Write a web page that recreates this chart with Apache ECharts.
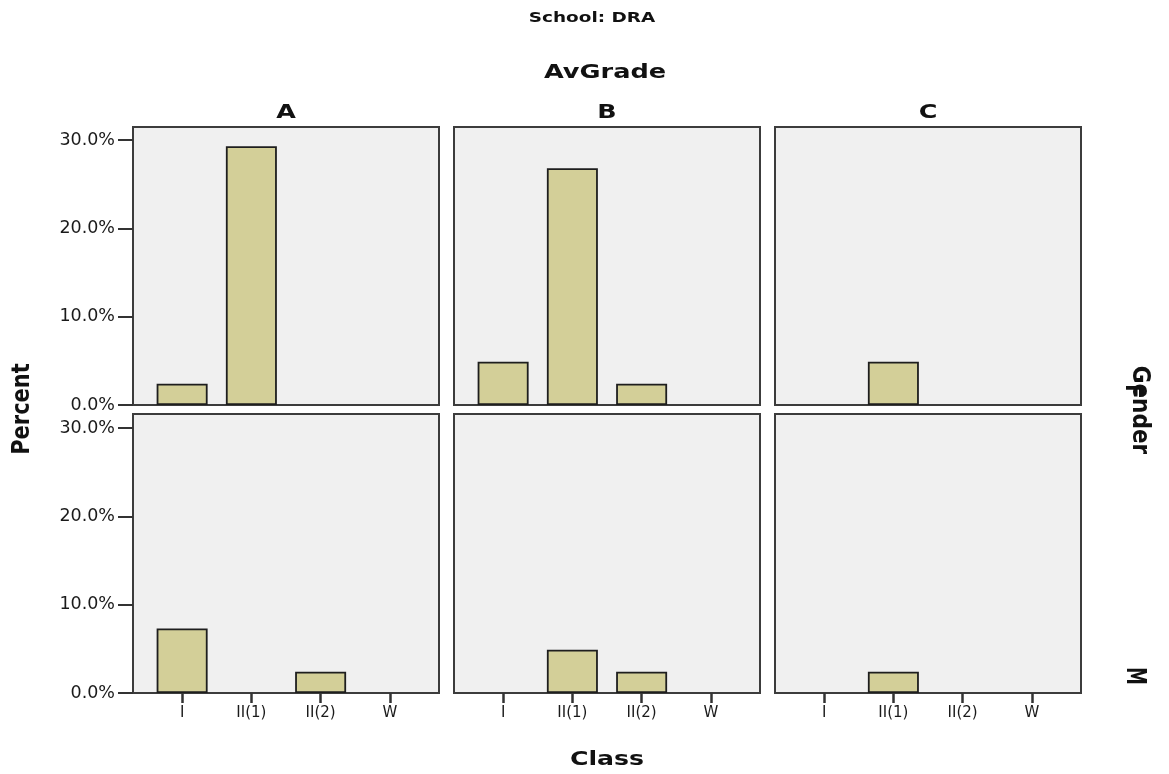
<!DOCTYPE html>
<html>
<head>
<meta charset="utf-8">
<style>
  html, body { margin: 0; padding: 0; background: #fff; }
  #chart { width: 1169px; height: 774px; }
</style>
<script src="https://cdn.jsdelivr.net/npm/echarts@6/dist/echarts.min.js"></script>
</head>
<body>
<div id="chart"></div>
<script>
// Class categories on the x axis
const classes = ['I', 'II(1)', 'II(2)', 'W'];
// Panel columns (AvGrade) and rows (Gender)
const grades = ['A', 'B', 'C'];
const genders = ['F', 'M'];
// Percent of students per class, one array per Gender × AvGrade panel
const pctF_A = [2.4, 29.3, 0, 0];
const pctF_B = [4.9, 26.8, 2.4, 0];
const pctF_C = [0, 4.9, 0, 0];
const pctM_A = [7.3, 0, 2.4, 0];
const pctM_B = [0, 4.9, 2.4, 0];
const pctM_C = [0, 2.4, 0, 0];
// Y tick values
const yTicks = [0, 10, 20, 30];

const panelData = [
  [pctF_A, pctF_B, pctF_C],
  [pctM_A, pctM_B, pctM_C]
];

const FONT = '"DejaVu Sans", Verdana, sans-serif';
const panelLeft = [133, 454, 775];
const panelW = 306;
const pad = 14.5;
const rows = [
  { panelTop: 127, axisTop: 140, axisBottom: 405 },
  { panelTop: 414, axisTop: 428, axisBottom: 693 }
];

const grid = [], xAxis = [], yAxis = [], series = [], graphic = [];

rows.forEach((r, ri) => {
  grades.forEach((g, ci) => {
    const idx = ri * 3 + ci;
    // panel background and frame
    graphic.push({
      type: 'rect', z: -10, silent: true,
      shape: { x: panelLeft[ci], y: r.panelTop, width: panelW, height: r.axisBottom - r.panelTop },
      style: { fill: '#f0f0f0', stroke: '#3c3c3c', lineWidth: 2 }
    });
    grid.push({
      left: panelLeft[ci] + pad,
      width: panelW - 2 * pad,
      top: r.axisTop,
      height: r.axisBottom - r.axisTop
    });
    const bottomRow = ri === rows.length - 1;
    xAxis.push({
      type: 'category', gridIndex: idx, data: classes,
      axisLine: { show: false },
      axisTick: { show: bottomRow, alignWithLabel: true, length: 10, lineStyle: { color: '#333', width: 2.5 } },
      axisLabel: { show: bottomRow, color: '#1a1a1a', fontFamily: FONT, fontSize: 15, margin: 13 },
      splitLine: { show: false }
    });
    const firstCol = ci === 0;
    yAxis.push({
      type: 'value', gridIndex: idx, min: yTicks[0], max: yTicks[yTicks.length - 1], interval: 10,
      offset: pad,
      axisLine: { show: false },
      axisTick: { show: firstCol, length: 15, lineStyle: { color: '#333', width: 2 } },
      axisLabel: { show: firstCol, color: '#1a1a1a', fontFamily: FONT, fontSize: 17.5, margin: 18,
        formatter: v => v.toFixed(1) + '%' },
      splitLine: { show: false }
    });
    series.push({
      type: 'bar', xAxisIndex: idx, yAxisIndex: idx,
      data: panelData[ri][ci].map(v => (v > 0 ? v : '-')),
      barWidth: 51,
      itemStyle: { color: '#d3cf98', borderColor: '#1e1e1e', borderWidth: 1.8 },
      silent: true, animation: false
    });
  });
});

// bold label; sx/sy widen the glyphs
const boldText = (text, x, y, size, rotation, sx, sy) => ({
  type: 'text', x: x, y: y, rotation: rotation || 0, scaleX: sx || 1, scaleY: sy || 1, silent: true,
  style: { text: text, font: 'bold ' + size + 'px ' + FONT, fill: '#111', align: 'center', verticalAlign: 'middle' }
});

graphic.push(boldText('School: DRA', 592, 18, 14.5, 0, 1.27, 1));
graphic.push(boldText('AvGrade', 605, 73, 20, 0, 1.28, 1));
grades.forEach((g, ci) => graphic.push(boldText(g, panelLeft[ci] + panelW / 2, 113, 20, 0, 1.27, 1)));
graphic.push(boldText('Class', 607, 760, 20, 0, 1.26, 1));
graphic.push(boldText('Percent', 22, 409, 20, Math.PI / 2, 1.05, 1.25));
graphic.push(boldText('Gender', 1140, 410, 20, -Math.PI / 2, 1.08, 1.25));
graphic.push(boldText(genders[0], 1133, 391, 20, -Math.PI / 2, 1, 1.25));
graphic.push(boldText(genders[1], 1134, 676, 20, -Math.PI / 2, 0.9, 1.3));

const chart = echarts.init(document.getElementById('chart'));
chart.setOption({
  animation: false,
  backgroundColor: '#ffffff',
  grid: grid,
  xAxis: xAxis,
  yAxis: yAxis,
  series: series,
  graphic: graphic
});
</script>
</body>
</html>
